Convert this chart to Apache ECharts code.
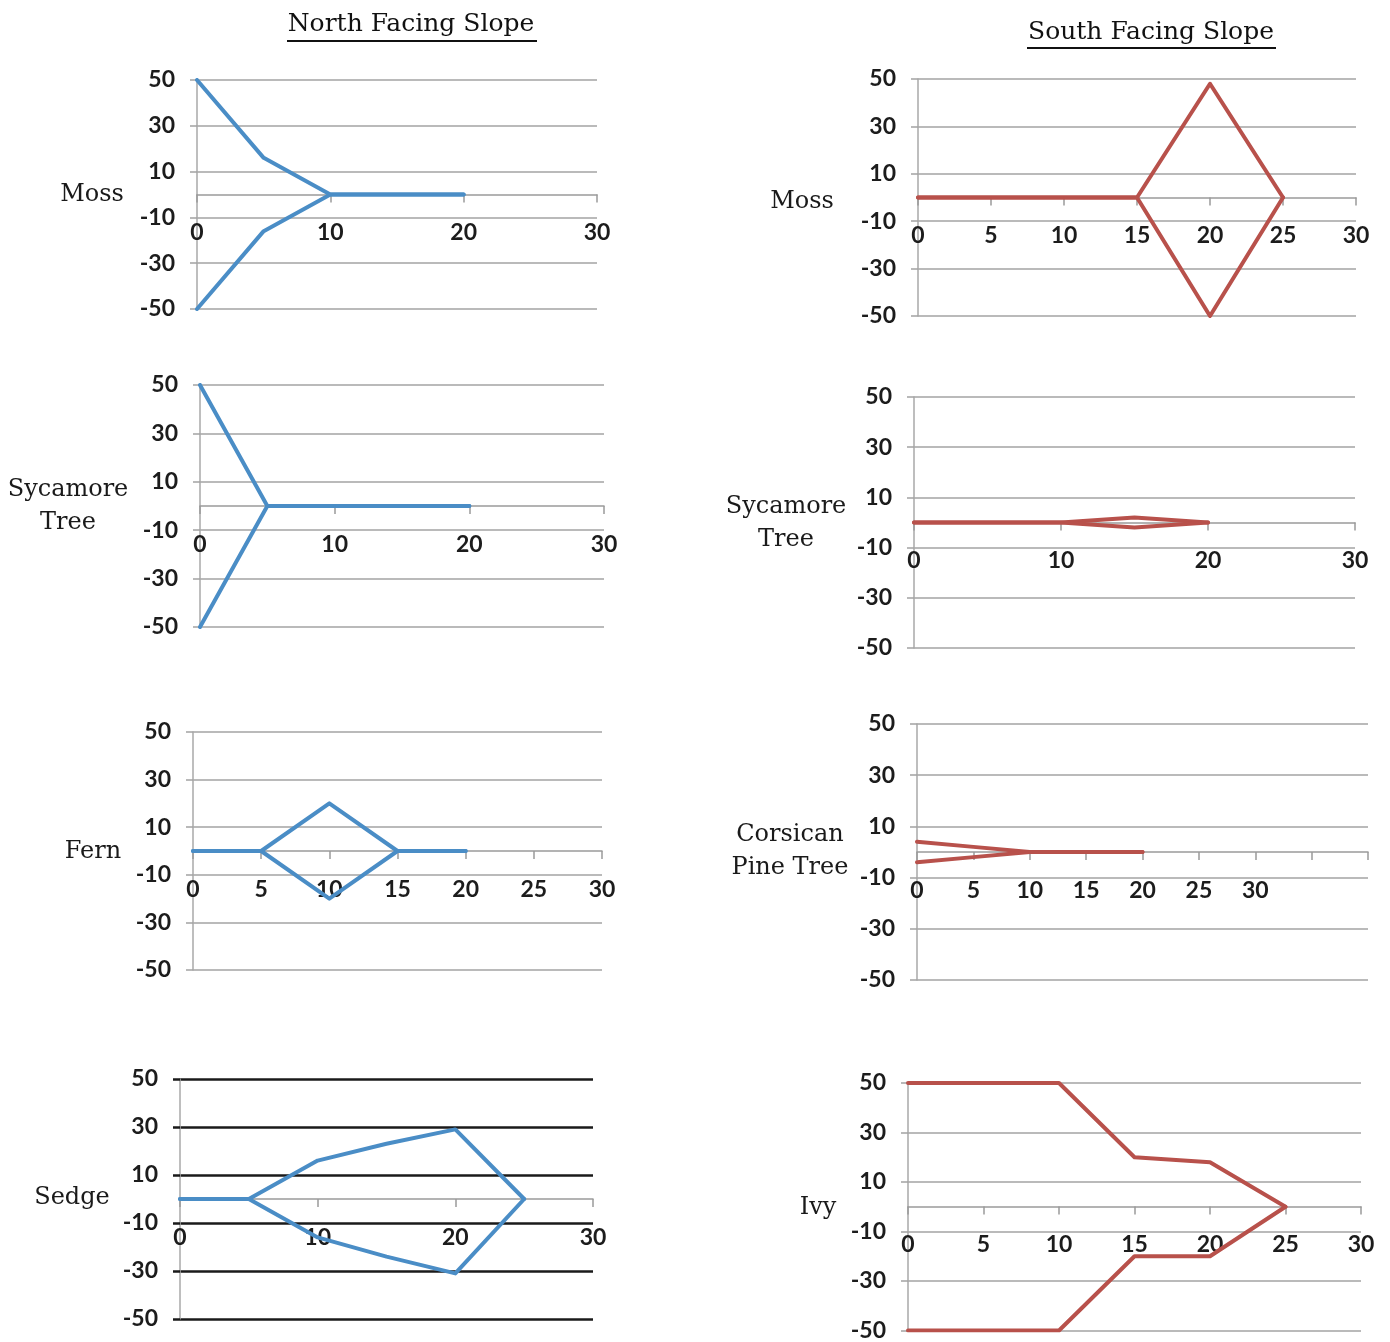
<!DOCTYPE html>
<html>
<head>
<meta charset="utf-8">
<script src="https://cdn.jsdelivr.net/npm/echarts@6/dist/echarts.min.js"></script>
<style>
html,body{margin:0;padding:0;background:#fff;}
#chart{width:1390px;height:1342px;}
</style>
</head>
<body>
<div id="chart"></div>
<script>
// ---------- DATA ----------
const yTickValues = [50, 30, 10, -10, -30, -50];

// North Facing Slope
const northMossDist = [0, 5, 10, 15, 20];
const northMossUpper = [50, 16, 0, 0, 0];
const northMossLower = [-50, -16, 0, 0, 0];

const northSycamoreDist = [0, 5, 10, 15, 20];
const northSycamoreUpper = [50, 0, 0, 0, 0];
const northSycamoreLower = [-50, 0, 0, 0, 0];

const northFernDist = [0, 5, 10, 15, 20];
const northFernUpper = [0, 0, 20, 0, 0];
const northFernLower = [0, 0, -20, 0, 0];

const northSedgeDist = [0, 5, 10, 15, 20, 25];
const northSedgeUpper = [0, 0, 16, 23, 29, 0];
const northSedgeLower = [0, 0, -16, -24, -31, 0];

// South Facing Slope
const southMossDist = [0, 5, 10, 15, 20, 25];
const southMossUpper = [0, 0, 0, 0, 48, 0];
const southMossLower = [0, 0, 0, 0, -50, 0];

const southSycamoreDist = [0, 5, 10, 15, 20];
const southSycamoreUpper = [0, 0, 0, 2, 0];
const southSycamoreLower = [0, 0, 0, -2, 0];

const southPineDist = [0, 5, 10, 15, 20];
const southPineUpper = [4, 2, 0, 0, 0];
const southPineLower = [-4, -2, 0, 0, 0];

const southIvyDist = [0, 5, 10, 15, 20, 25];
const southIvyUpper = [50, 50, 50, 20, 18, 0];
const southIvyLower = [-50, -50, -50, -20, -20, 0];

// ---------- LAYOUT / STYLE ----------
const BLUE = '#4a8dc6';
const RED = '#b8514b';
const GRID_GRAY = '#a3a3a3';

const panels = [
  {label: 'Moss', dist: northMossDist, up: northMossUpper, lo: northMossLower, color: BLUE,
   grid: {left: 197, top: 80, width: 400, height: 229}, xMax: 30, xInt: 10, lx: 92, ly: 195},
  {label: 'Sycamore\nTree', dist: northSycamoreDist, up: northSycamoreUpper, lo: northSycamoreLower, color: BLUE,
   grid: {left: 200, top: 385, width: 404, height: 242}, xMax: 30, xInt: 10, lx: 68, ly: 506},
  {label: 'Fern', dist: northFernDist, up: northFernUpper, lo: northFernLower, color: BLUE,
   grid: {left: 193, top: 732, width: 409, height: 238}, xMax: 30, xInt: 5, lx: 93, ly: 852},
  {label: 'Sedge', dist: northSedgeDist, up: northSedgeUpper, lo: northSedgeLower, color: BLUE,
   grid: {left: 180, top: 1079, width: 413, height: 240}, xMax: 30, xInt: 10, lx: 72, ly: 1198, darkGrid: true},
  {label: 'Moss', dist: southMossDist, up: southMossUpper, lo: southMossLower, color: RED,
   grid: {left: 918, top: 79, width: 438, height: 237}, xMax: 30, xInt: 5, lx: 802, ly: 202},
  {label: 'Sycamore\nTree', dist: southSycamoreDist, up: southSycamoreUpper, lo: southSycamoreLower, color: RED,
   grid: {left: 914, top: 397, width: 441, height: 251}, xMax: 30, xInt: 10, lx: 786, ly: 523, grayLabels: true},
  {label: 'Corsican\nPine Tree', dist: southPineDist, up: southPineUpper, lo: southPineLower, color: RED,
   grid: {left: 917, top: 724, width: 451, height: 256}, xMax: 40, xInt: 5, lx: 790, ly: 851, labelMax: 30},
  {label: 'Ivy', dist: southIvyDist, up: southIvyUpper, lo: southIvyLower, color: RED,
   grid: {left: 908, top: 1083, width: 453, height: 248}, xMax: 30, xInt: 5, lx: 818, ly: 1208}
];

const grids = [], xAxes = [], yAxes = [], series = [], graphics = [];
const tickFont = 'Lato, "Open Sans", sans-serif';
const serifFont = '"DejaVu Serif", "Liberation Serif", serif';

panels.forEach((p, i) => {
  grids.push(Object.assign({containLabel: false}, p.grid));
  xAxes.push({
    type: 'value', gridIndex: i, min: 0, max: p.xMax, interval: p.xInt,
    position: 'bottom', offset: -p.grid.height / 2,
    axisLine: {onZero: false, lineStyle: {color: '#9a9a9a', width: 1.5}},
    axisTick: {show: true, length: 8, lineStyle: {color: '#9a9a9a', width: 1.5}},
    splitLine: {show: false},
    axisLabel: {
      margin: 27, fontFamily: tickFont, fontWeight: 'bold', fontSize: 23,
      color: p.grayLabels ? function (v) { return v === 10 ? '#9a9a9a' : (v === 30 ? '#6a6a6a' : '#1c1c1c'); } : '#1c1c1c',
      formatter: function (v) { return (p.labelMax != null && v > p.labelMax) ? '' : String(v); }
    }
  });
  yAxes.push({
    type: 'value', gridIndex: i, min: -50, max: 50, interval: 20,
    axisLine: {show: true, onZero: false, lineStyle: {color: '#a8a8a8', width: 1.5}},
    axisTick: {show: true, length: 7, lineStyle: {color: p.darkGrid ? '#1a1a1a' : GRID_GRAY, width: p.darkGrid ? 2.5 : 1.5}},
    splitLine: {show: true, lineStyle: {color: p.darkGrid ? '#1a1a1a' : GRID_GRAY, width: p.darkGrid ? 2.5 : 1.5}},
    axisLabel: {margin: 22, fontFamily: tickFont, fontWeight: 'bold', fontSize: 23, color: '#1c1c1c'}
  });
  const mk = (vals) => p.dist.map((d, k) => [d, vals[k]]);
  [p.up, p.lo].forEach((vals, k) => {
    series.push({
      type: 'line', xAxisIndex: i, yAxisIndex: i, data: mk(vals),
      showSymbol: false, symbol: 'none', animation: false, z: 5,
      lineStyle: {color: p.color, width: 4, join: 'round', cap: 'round'}
    });
  });
  graphics.push({
    type: 'text', x: p.lx, y: p.ly, z: 10,
    style: {text: p.label, font: '24px ' + serifFont, fill: '#1a1a1a',
            align: 'center', verticalAlign: 'middle', lineHeight: 33}
  });
});

// Column titles with underline
[['North Facing Slope', 411, 24, 287, 537, 40], ['South Facing Slope', 1151, 32, 1027, 1276, 47]].forEach(t => {
  graphics.push({type: 'text', x: t[1], y: t[2], z: 10,
    style: {text: t[0], font: '25px ' + serifFont, fill: '#111', align: 'center', verticalAlign: 'middle'}});
  graphics.push({type: 'rect', z: 10, shape: {x: t[3], y: t[5], width: t[4] - t[3], height: 2},
    style: {fill: '#111'}});
});

const chart = echarts.init(document.getElementById('chart'), null, {renderer: 'canvas'});
chart.setOption({
  backgroundColor: '#ffffff',
  animation: false,
  grid: grids, xAxis: xAxes, yAxis: yAxes, series: series,
  graphic: graphics
});
</script>
</body>
</html>
